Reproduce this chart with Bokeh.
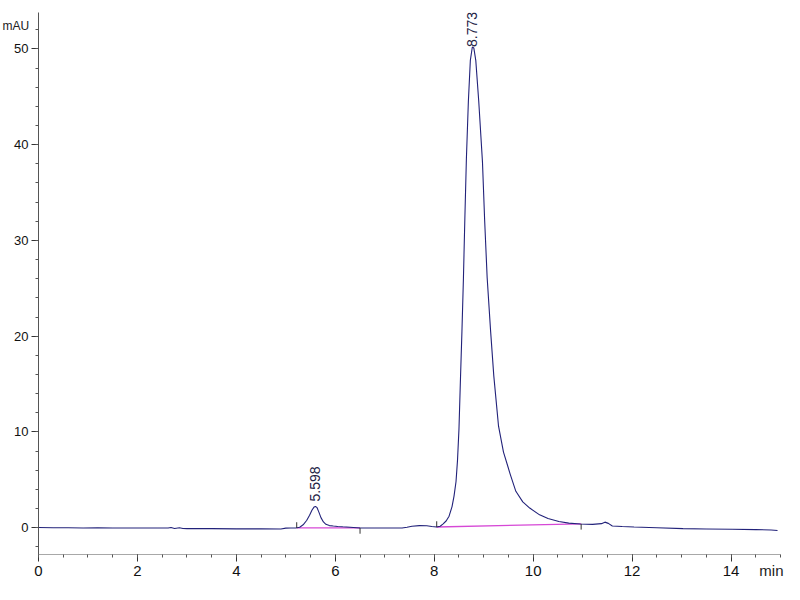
import math
import numpy as np
from bokeh.plotting import figure
from bokeh.models import Range1d, Label, FixedTicker, Title
from bokeh.embed import file_html
from bokeh.resources import INLINE

# ---- data ----
time_min = [0.00, 0.30, 0.60, 0.90, 1.20, 1.50, 1.80, 2.10, 2.40, 2.62, 2.68, 2.75, 2.85,
            2.92, 3.00, 3.50, 4.00, 4.50, 4.90, 5.00, 5.10, 5.20, 5.28, 5.35, 5.42, 5.48,
            5.53, 5.57, 5.60, 5.63, 5.67, 5.71, 5.76, 5.81, 5.88, 5.96, 6.05, 6.15, 6.30,
            6.50, 6.80, 7.10, 7.35, 7.45, 7.55, 7.70, 7.85, 7.95, 8.05, 8.12, 8.18, 8.24,
            8.30, 8.36, 8.40, 8.44, 8.47, 8.50, 8.53, 8.56, 8.59, 8.62, 8.65, 8.69, 8.73,
            8.77, 8.80, 8.84, 8.90, 8.975, 9.02, 9.07, 9.14, 9.205, 9.30, 9.40, 9.535, 9.65,
            9.79, 9.93, 10.13, 10.30, 10.52, 10.72, 10.95, 11.20, 11.38, 11.45, 11.52, 11.60,
            11.80, 12.04, 12.50, 13.03, 13.50, 14.02, 14.50, 14.81, 14.94]
signal_mau = [0.02, 0.00, 0.00, -0.03, -0.02, -0.03, -0.03, -0.03, -0.04, -0.04, 0.02, -0.08, 0.00,
              -0.08, -0.10, -0.10, -0.12, -0.12, -0.13, -0.05, -0.04, -0.03, 0.05, 0.30, 0.75, 1.30,
              1.85, 2.15, 2.22, 2.10, 1.60, 1.05, 0.60, 0.35, 0.22, 0.17, 0.13, 0.09, 0.04,
              -0.03, -0.04, -0.04, -0.03, 0.05, 0.15, 0.22, 0.20, 0.12, 0.07, 0.15, 0.40, 0.70,
              1.20, 2.20, 3.30, 4.80, 7.00, 10.30, 15.50, 20.50, 26.00, 32.50, 38.50, 44.50, 48.80,
              50.20, 50.10, 48.80, 44.50, 38.20, 32.00, 26.10, 20.50, 15.80, 10.60, 7.90, 5.60, 3.80,
              2.70, 2.05, 1.34, 0.95, 0.65, 0.48, 0.38, 0.35, 0.42, 0.58, 0.45, 0.18,
              0.12, 0.07, 0.00, -0.10, -0.13, -0.17, -0.20, -0.24, -0.30]

# integration baselines (start/end of each peak)
base_t0 = [5.22, 8.05]
base_y0 = [-0.03, 0.07]
base_t1 = [6.50, 10.97]
base_y1 = [-0.03, 0.40]

# peak labels
peak_times = [5.598, 8.773]
peak_heights = [2.22, 50.20]
peak_labels = ["5.598", "8.773"]

x_major = [0, 2, 4, 6, 8, 10, 12, 14]
y_major = [0, 10, 20, 30, 40, 50]

# ---- styling ----
FONT = "Liberation Sans"
CURVE = "#22227a"
BASE = "#d648d6"

p = figure(width=784, height=584, output_backend="svg", toolbar_location=None,
           x_range=Range1d(0, 15), y_range=Range1d(-2.8, 53.8),
           min_border_left=38, min_border_right=4, min_border_top=12, min_border_bottom=30)
p.outline_line_color = None
p.xgrid.visible = False
p.ygrid.visible = False
p.background_fill_color = "white"
p.border_fill_color = "white"

p.xaxis.ticker = FixedTicker(ticks=x_major, minor_ticks=list(np.arange(0, 15.01, 0.5)))
p.yaxis.ticker = FixedTicker(ticks=y_major, minor_ticks=list(np.arange(-2, 54, 2)))

for ax in (p.xaxis, p.yaxis):
    ax.major_tick_in = 0
    ax.minor_tick_in = 0
    ax.major_tick_out = 7
    ax.minor_tick_out = 3
    ax.major_label_text_font = FONT
    ax.major_label_text_color = "#111111"
    ax.major_tick_line_color = "#333333"
    ax.minor_tick_line_color = "#555555"

p.xaxis.axis_line_color = "#a8a8a8"
p.yaxis.axis_line_color = "#555555"
p.xaxis.major_label_text_font_size = "15px"
p.yaxis.major_label_text_font_size = "13px"
p.xaxis.major_label_standoff = 4
p.yaxis.major_label_standoff = 3

# baselines
p.segment(x0=base_t0, y0=base_y0, x1=base_t1, y1=base_y1, line_color=BASE, line_width=1.3)

# chromatogram trace
p.line(time_min, signal_mau, line_color=CURVE, line_width=1.1)

# baseline start/end tick markers
TICK = 0.6
mk_x = base_t0 + base_t1
mk_y = base_y0 + base_y1
mk_dir = [1] * len(base_t0) + [-1] * len(base_t1)
p.segment(x0=mk_x, y0=mk_y, x1=mk_x, y1=[y + d * TICK for y, d in zip(mk_y, mk_dir)],
          line_color="#333333", line_width=1)

# peak retention-time labels
gaps = [5, 0]
for t, h, lab, g in zip(peak_times, peak_heights, peak_labels, gaps):
    p.add_layout(Label(x=t, y=h, text=lab, angle=math.pi / 2, y_offset=g,
                       text_align="left", text_baseline="middle",
                       text_font=FONT, text_font_size="14px", text_color="#222244"))

# axis unit labels (as titles so they can sit outside the frame)
p.title.text = "mAU"
p.title.align = "left"
p.title.offset = -36
p.title.standoff = -40
p.title.text_font = FONT
p.title.text_font_size = "12px"
p.title.text_font_style = "normal"
p.title.text_color = "#222222"

p.add_layout(Title(text="min", align="right", offset=-3, standoff=-34, vertical_align="top",
                   text_font=FONT, text_font_size="15px", text_font_style="normal",
                   text_color="#222222"), "below")

open("out.html", "w").write(file_html(p, INLINE))
